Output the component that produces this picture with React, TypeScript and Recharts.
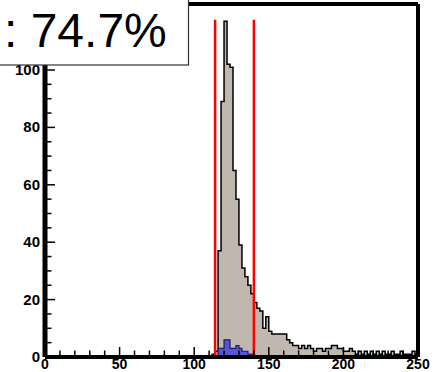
import { ComposedChart, Area, XAxis, YAxis, ReferenceLine } from "recharts";

// histogram: 125 bins of width 2 over [0, 250]
const BIN_WIDTH = 2;

// all candidates
const GRAY_COUNTS = [
  0, 0, 0, 0, 0, 0, 0, 0, 0, 0,
  0, 0, 0, 0, 0, 0, 0, 0, 0, 0,
  0, 0, 0, 0, 0, 0, 0, 0, 0, 0,
  0, 0, 0, 0, 0, 0, 0, 0, 0, 0,
  0, 0, 0, 0, 0, 0, 0, 0, 0, 0,
  0, 0, 0, 0, 0, 0, 1, 2, 37, 89,
  117, 102, 101, 65, 55, 39, 31, 28, 25, 22,
  19, 17, 16, 10, 14, 9, 8, 8, 8, 8,
  8, 6, 5, 4, 4, 3, 4, 3, 4, 3,
  2, 3, 3, 2, 3, 3, 4, 4, 3, 3,
  2, 2, 3, 2, 1, 2, 1, 2, 1, 2,
  1, 2, 1, 2, 1, 1, 2, 1, 1, 2,
  1, 1, 1, 2, 1,
];

// selected candidates
const BLUE_COUNTS = [
  0, 0, 0, 0, 0, 0, 0, 0, 0, 0,
  0, 0, 0, 0, 0, 0, 0, 0, 0, 0,
  0, 0, 0, 0, 0, 0, 0, 0, 0, 0,
  0, 0, 0, 0, 0, 0, 0, 0, 0, 0,
  0, 0, 0, 0, 0, 0, 0, 0, 0, 0,
  0, 0, 0, 0, 0, 0, 0, 0, 3, 3,
  6, 6, 3, 3, 4, 3, 2, 2, 1, 1,
];

const X_TICKS = [0, 10, 20, 30, 40, 50, 60, 70, 80, 90, 100, 110, 120, 130, 140, 150, 160, 170, 180, 190, 200, 210, 220, 230, 240, 250];
const X_LABELS = [0, 50, 100, 150, 200, 250];
const Y_TICKS = [0, 5, 10, 15, 20, 25, 30, 35, 40, 45, 50, 55, 60, 65, 70, 75, 80, 85, 90, 95, 100, 105, 110, 115, 120];
const Y_LABELS = [0, 20, 40, 60, 80, 100];

const CUTS = [114, 140];
const CUT_TOP = 117.5;
const TITLE = ": 74.7%";

const data = [...GRAY_COUNTS, 0].map((g, i) => ({
  x: i * BIN_WIDTH,
  gray: g,
  blue: BLUE_COUNTS[i] ?? 0,
}));

const FONT = "'Liberation Sans', Arial, Helvetica, sans-serif";

function XTick(props: any) {
  const { x, y, payload } = props;
  const major = X_LABELS.includes(payload.value);
  return (
    <g>
      <line x1={x} x2={x} y1={y} y2={y - (major ? 10 : 6.5)} stroke="#000" strokeWidth={1.5} />
      {major && (
        <text x={x} y={y + 12} textAnchor="middle" fontSize={14} fontWeight="bold" fontFamily={FONT} fill="#000">
          {payload.value}
        </text>
      )}
    </g>
  );
}

function YTick(props: any) {
  const { x, y, payload } = props;
  const major = payload.value % 20 === 0;
  return (
    <g>
      <line x1={x} x2={x + (major ? 10 : 6.5)} y1={y} y2={y} stroke="#000" strokeWidth={1.5} />
      {Y_LABELS.includes(payload.value) && (
        <text x={x - 5} y={y + 5} textAnchor="end" fontSize={15} fontWeight="bold" fontFamily={FONT} fill="#000">
          {payload.value}
        </text>
      )}
    </g>
  );
}

export default function App() {
  return (
    <div style={{ position: "fixed", left: 0, top: 0, width: 441, height: 372, background: "#fff", overflow: "hidden" }}>
      <ComposedChart width={441} height={372} data={data} margin={{ top: 4, right: 23, bottom: 0, left: 0 }}>
        <Area
          type="stepAfter"
          dataKey="gray"
          stroke="#000"
          strokeWidth={1.5}
          fill="#c0b8ae"
          fillOpacity={1}
          dot={false}
          activeDot={false}
          isAnimationActive={false}
        />
        <Area
          type="stepAfter"
          dataKey="blue"
          stroke="#1c1c5a"
          strokeWidth={1.2}
          fill="#5a55d6"
          fillOpacity={1}
          dot={false}
          activeDot={false}
          isAnimationActive={false}
        />
        {CUTS.map((c) => (
          <ReferenceLine
            key={c}
            segment={[{ x: c, y: 0 }, { x: c, y: CUT_TOP }]}
            stroke="#ff0000"
            strokeWidth={2.5}
          />
        ))}
        {/* frame */}
        <ReferenceLine y={123} stroke="#000" strokeWidth={4} />
        <ReferenceLine x={250} stroke="#000" strokeWidth={4} />
        <ReferenceLine x={0} stroke="#000" strokeWidth={5} />
        <XAxis
          type="number"
          dataKey="x"
          domain={[0, 250]}
          ticks={X_TICKS}
          interval={0}
          height={15}
          tickSize={0}
          tickMargin={0}
          tickLine={false}
          axisLine={{ stroke: "#000", strokeWidth: 4 }}
          tick={<XTick />}
        />
        <YAxis
          type="number"
          domain={[0, 123]}
          allowDataOverflow
          ticks={Y_TICKS}
          interval={0}
          width={45}
          tickSize={0}
          tickMargin={0}
          tickLine={false}
          axisLine={{ stroke: "#000", strokeWidth: 4 }}
          tick={<YTick />}
        />
      </ComposedChart>
      <svg width={190} height={67} style={{ position: "absolute", left: 0, top: 0 }}>
        <rect x={-5} y={-5} width={193.5} height={70} fill="#fff" stroke="#333" strokeWidth={1.2} />
        <text x={4} y={47} fontSize={48} fontFamily={FONT} fill="#000">
          {TITLE}
        </text>
      </svg>
    </div>
  );
}
